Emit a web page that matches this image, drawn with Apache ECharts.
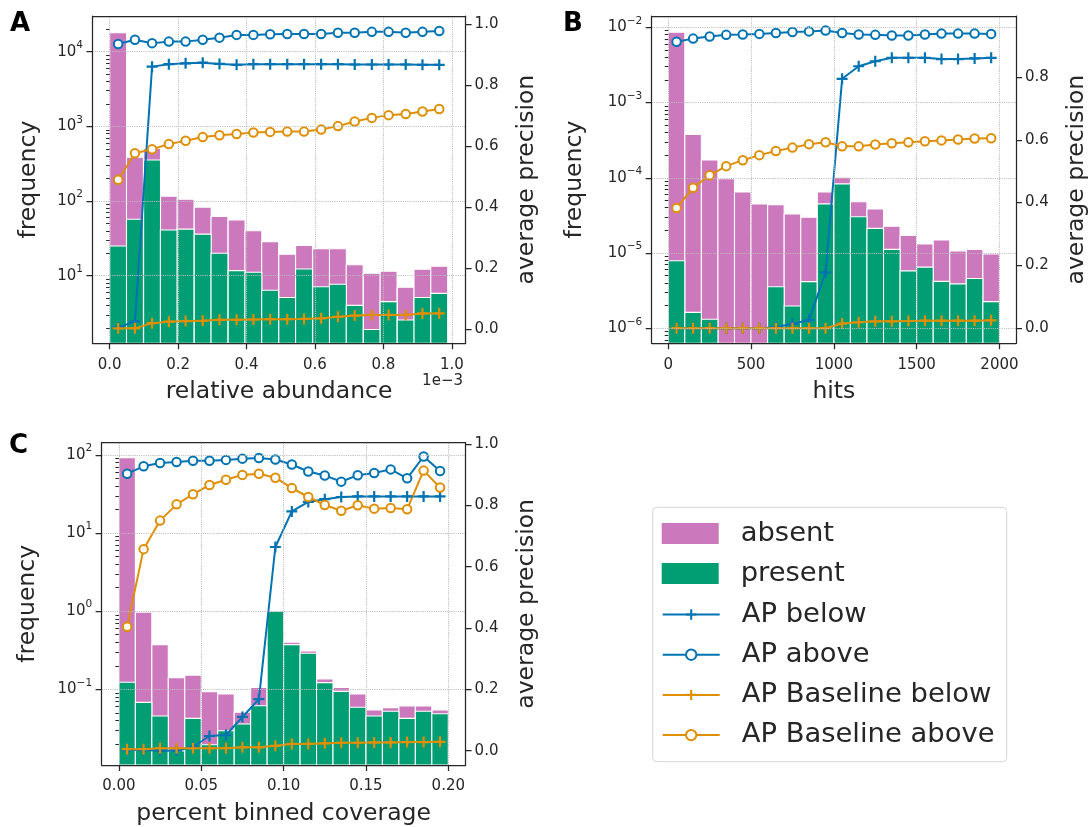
<!DOCTYPE html>
<html><head><meta charset="utf-8">
<script src="https://cdn.jsdelivr.net/npm/echarts@6/dist/echarts.min.js"></script>
<style>html,body{margin:0;padding:0;background:#fff}#c{width:1088px;height:827px}</style>
</head><body><div id="c"></div>
<script>
// ---------------- DATA ----------------
// Panel A: relative abundance (x in units of 1e-3)
const aBins = [0.025,0.074,0.124,0.173,0.222,0.272,0.321,0.371,0.420,0.469,0.519,0.568,0.618,0.667,0.716,0.766,0.815,0.865,0.914,0.963];
const aBinWidth = 0.0494;
const aAbsent  = [18000,385,508,116,106,83,62,56,40,28.6,19.4,25.5,23,23,14,10.8,11.5,7.0,12.2,13.4];
const aPresent = [25,57,355,41,42,36,20,11.7,11.1,6.4,5.1,12.3,7.1,7.7,4.0,1.9,4.5,2.55,5.1,5.8];
const aApBelow   = [0.005,0.025,0.860,0.868,0.871,0.873,0.869,0.866,0.868,0.868,0.868,0.868,0.868,0.868,0.867,0.867,0.867,0.867,0.866,0.866];
const aApAbove   = [0.934,0.948,0.937,0.942,0.942,0.948,0.955,0.964,0.964,0.966,0.967,0.967,0.967,0.971,0.971,0.974,0.974,0.971,0.974,0.977];
const aBaseBelow = [0.002,0.002,0.019,0.024,0.026,0.027,0.030,0.030,0.031,0.032,0.032,0.033,0.035,0.040,0.044,0.046,0.046,0.046,0.051,0.051];
const aBaseAbove = [0.489,0.576,0.589,0.606,0.617,0.629,0.635,0.639,0.644,0.646,0.647,0.647,0.654,0.665,0.680,0.692,0.701,0.705,0.713,0.721];
const aXTicks = [0.0,0.2,0.4,0.6,0.8,1.0];
const aLogTicks = [1e1,1e2,1e3,1e4];
const aApTicks = [0.0,0.2,0.4,0.6,0.8,1.0];

// Panel B: hits
const bBins = [50,150,250,350,450,550,650,750,850,950,1050,1150,1250,1350,1450,1550,1650,1750,1850,1950];
const bBinWidth = 100;
const bAbsent  = [8.6e-3,3.78e-4,1.73e-4,9.7e-5,6.5e-5,4.5e-5,4.4e-5,3.3e-5,3.0e-5,6.5e-5,1.02e-4,4.8e-5,3.85e-5,2.27e-5,1.72e-5,1.32e-5,1.49e-5,1.07e-5,1.12e-5,9.7e-6];
const bPresent = [7.9e-6,1.63e-6,1.32e-6,null,null,null,3.57e-6,1.98e-6,4.17e-6,4.5e-5,8.3e-5,3.04e-5,2.13e-5,1.12e-5,5.8e-6,6.5e-6,4.2e-6,3.9e-6,4.6e-6,2.26e-6];
const bApBelow   = [0,0,0,0,0,0,0.003,0.014,0.026,0.178,0.794,0.834,0.850,0.861,0.861,0.861,0.857,0.857,0.859,0.861];
const bApAbove   = [0.912,0.922,0.929,0.934,0.935,0.937,0.940,0.943,0.945,0.948,0.940,0.935,0.934,0.932,0.932,0.935,0.938,0.938,0.938,0.937];
const bBaseBelow = [0,0,0,0,0,0,0,0,0,0,0.015,0.019,0.022,0.022,0.023,0.024,0.024,0.024,0.024,0.025];
const bBaseAbove = [0.383,0.447,0.487,0.516,0.535,0.551,0.564,0.575,0.586,0.592,0.579,0.579,0.585,0.589,0.592,0.595,0.598,0.601,0.604,0.605];
const bXTicks = [0,500,1000,1500,2000];
const bLogTicks = [1e-6,1e-5,1e-4,1e-3,1e-2];
const bApTicks = [0.0,0.2,0.4,0.6,0.8];

// Panel C: percent binned coverage
const cBins = [0.005,0.015,0.025,0.035,0.045,0.055,0.065,0.075,0.085,0.095,0.105,0.115,0.125,0.135,0.145,0.155,0.165,0.175,0.185,0.195];
const cBinWidth = 0.01;
const cAbsent  = [92.4,0.968,0.373,0.141,0.152,0.093,0.087,0.051,0.106,0.9,0.40,0.309,0.1355,0.106,0.087,0.0543,0.0582,0.061,0.061,0.0543];
const cPresent = [0.123,0.068,0.0455,0.0162,0.0425,0.0195,0.0295,0.036,0.0616,1.0,0.373,0.289,0.1216,0.094,0.0589,0.0455,0.0523,0.0425,0.0523,0.0487];
const cApBelow   = [0.002,0.002,0.0,0.0,0.013,0.048,0.051,0.110,0.168,0.664,0.780,0.811,0.820,0.827,0.829,0.829,0.829,0.829,0.829,0.829];
const cApAbove   = [0.903,0.927,0.938,0.941,0.945,0.945,0.948,0.952,0.954,0.949,0.933,0.910,0.897,0.877,0.898,0.905,0.917,0.888,0.959,0.912];
const cBaseBelow = [0.005,0.005,0.008,0.008,0.008,0.008,0.008,0.011,0.011,0.016,0.022,0.022,0.024,0.026,0.026,0.027,0.027,0.028,0.028,0.029];
const cBaseAbove = [0.404,0.657,0.750,0.803,0.836,0.866,0.883,0.899,0.903,0.890,0.856,0.827,0.801,0.782,0.800,0.789,0.791,0.787,0.913,0.858];
const cXTicks = [0.00,0.05,0.10,0.15,0.20];
const cLogTicks = [1e-1,1e0,1e1,1e2];
const cApTicks = [0.0,0.2,0.4,0.6,0.8,1.0];

// ---------------- STYLE / LAYOUT ----------------
const FONT = 'DejaVu Sans';
const TXT = '#262626';
const BLUE = '#0173B2', ORANGE = '#DE8F05', GREEN = '#029E73', PINK = '#CC78BC';
const PLUS = 'path://M4,0H6V4H10V6H6V10H4V6H0V4H4Z';
const GRIDC = '#bdbdbd';

const panels = [
  {bins:aBins, w:aBinWidth, absent:aAbsent, present:aPresent, apB:aApBelow, apA:aApAbove, bsB:aBaseBelow, bsA:aBaseAbove,
   xt:aXTicks, lt:aLogTicks, rt:aApTicks, xfmt:v=>v.toFixed(1), xname:'relative abundance',
   grid:{left:92.5, top:16, width:373.1, height:327.3}, xr:[-0.05,1.04], yr:[1.244,30060], rr:[-0.047,1.026],
   lgap:52, rgap:49.6},
  {bins:bBins, w:bBinWidth, absent:bAbsent, present:bPresent, apB:bApBelow, apA:bApAbove, bsB:bBaseBelow, bsA:bBaseAbove,
   xt:bXTicks, lt:bLogTicks, rt:bApTicks, xfmt:v=>String(Math.round(v)), xname:'hits',
   grid:{left:651.7, top:16, width:364.3, height:327.3}, xr:[-100,2100], yr:[6.32e-7,0.01413], rr:[-0.048,0.994],
   lgap:65, rgap:48.7},
  {bins:cBins, w:cBinWidth, absent:cAbsent, present:cPresent, apB:cApBelow, apA:cApAbove, bsB:cBaseBelow, bsA:cBaseAbove,
   xt:cXTicks, lt:cLogTicks, rt:cApTicks, xfmt:v=>v.toFixed(2), xname:'percent binned coverage',
   grid:{left:101.6, top:442.7, width:364, height:322.3}, xr:[-0.0105,0.2105], yr:[0.01074,143.5], rr:[-0.0466,1.004],
   lgap:61.4, rgap:49.6}
];

function minorTicks(lo, hi){
  const out = [];
  for (let e = Math.floor(Math.log10(lo)) - 1; e <= Math.ceil(Math.log10(hi)); e++){
    for (let m = 2; m <= 9; m++){
      const v = m * Math.pow(10, e);
      if (v >= lo && v <= hi) out.push(v);
    }
  }
  return out;
}
function supLabel(v){
  const e = Math.round(Math.log10(v));
  return '{b|10}{s|' + (e < 0 ? '\u2212' + (-e) : e) + '}';
}
function barItem(width){
  return function(params, api){
    const x = api.value(0), y = api.value(1);
    if (y == null || isNaN(y) || y <= 0) return;
    const p1 = api.coord([x - width/2, y]);
    const p2 = api.coord([x + width/2, y]);
    const cs = params.coordSys;
    const bottom = cs.y + cs.height;
    return {type:'rect', shape:{x:p1[0], y:p1[1], width:p2[0]-p1[0], height:bottom-p1[1]},
            style:{fill:api.visual('color'), stroke:'#ffffff', lineWidth:1.1}};
  };
}
const pairs = (xs, ys) => xs.map((x,i)=>[x, ys[i]]).filter(d => d[1] != null);

const lineStyleAx = {color:TXT, width:1.25};
const labelBase = {color:TXT, fontFamily:FONT, fontSize:15};
const nameStyle = {color:TXT, fontFamily:FONT, fontSize:23.5};

const grids = [], xAxes = [], yAxes = [], series = [];
panels.forEach((p, k) => {
  grids.push(Object.assign({containLabel:false, outerBoundsMode:'none'}, p.grid));
  xAxes.push({gridIndex:k, type:'value', min:p.xr[0], max:p.xr[1], position:'bottom', z:10,
    axisLine:{show:true, onZero:false, lineStyle:lineStyleAx},
    axisTick:{show:true, length:6, lineStyle:lineStyleAx, customValues:p.xt},
    axisLabel:Object.assign({show:true, margin:14, customValues:p.xt, formatter:p.xfmt}, labelBase),
    splitLine:{show:true, lineStyle:{color:GRIDC, type:'dotted', width:1.1}},
    name:p.xname, nameLocation:'middle', nameGap:37, nameTextStyle:nameStyle});
  xAxes.push({gridIndex:k, type:'value', min:p.xr[0], max:p.xr[1], position:'top', z:10,
    axisLine:{show:true, onZero:false, lineStyle:lineStyleAx},
    axisTick:{show:false}, axisLabel:{show:false}, splitLine:{show:false}});
  yAxes.push({gridIndex:k, type:'log', logBase:10, min:p.yr[0], max:p.yr[1], position:'left', z:10,
    axisLine:{show:true, onZero:false, lineStyle:lineStyleAx},
    axisTick:{show:true, length:6, lineStyle:lineStyleAx, customValues:p.lt},
    axisLabel:{show:true, margin:9.5, customValues:p.lt, formatter:supLabel,
      rich:{b:{fontSize:15, fontFamily:FONT, color:TXT, lineHeight:24},
            s:{fontSize:10.5, fontFamily:FONT, color:TXT, lineHeight:6, verticalAlign:'top'}}},
    splitLine:{show:true, lineStyle:{color:GRIDC, type:'dotted', width:1.1}},
    name:'frequency', nameLocation:'middle', nameRotate:90, nameGap:p.lgap, nameTextStyle:nameStyle});
  yAxes.push({gridIndex:k, type:'log', logBase:10, min:p.yr[0], max:p.yr[1], position:'left', z:10,
    axisLine:{show:false},
    axisTick:{show:true, length:3.5, lineStyle:{color:TXT, width:1}, customValues:minorTicks(p.yr[0], p.yr[1])},
    axisLabel:{show:false}, splitLine:{show:false}});
  yAxes.push({gridIndex:k, type:'value', min:p.rr[0], max:p.rr[1], position:'right', z:10,
    axisLine:{show:true, onZero:false, lineStyle:lineStyleAx},
    axisTick:{show:true, length:6, lineStyle:lineStyleAx, customValues:p.rt},
    axisLabel:Object.assign({show:true, margin:9, customValues:p.rt, formatter:v=>v.toFixed(1)}, labelBase),
    splitLine:{show:false},
    name:'average precision', nameLocation:'middle', nameRotate:90, nameGap:p.rgap, nameTextStyle:nameStyle});

  const xi = 2*k, yl = 3*k, yr = 3*k + 2;
  series.push({type:'custom', name:'absent', coordinateSystem:'cartesian2d', xAxisIndex:xi, yAxisIndex:yl,
    renderItem:barItem(p.w), data:pairs(p.bins, p.absent), encode:{x:0, y:1},
    itemStyle:{color:PINK}, clip:true, silent:true, z:2});
  series.push({type:'custom', name:'present', coordinateSystem:'cartesian2d', xAxisIndex:xi, yAxisIndex:yl,
    renderItem:barItem(p.w), data:pairs(p.bins, p.present), encode:{x:0, y:1},
    itemStyle:{color:GREEN}, clip:true, silent:true, z:2});
  const mk = (name, ys, color, hollow) => ({
    type:'line', name:name, xAxisIndex:xi, yAxisIndex:yr, data:pairs(p.bins, ys), color:color,
    symbol: hollow ? 'circle' : PLUS, symbolSize: hollow ? 8.5 : 11, showSymbol:true, showAllSymbol:true,
    lineStyle:{color:color, width:2},
    itemStyle: hollow ? {color:'#ffffff', borderColor:color, borderWidth:2} : {color:color, borderWidth:0},
    silent:true, z:3});
  series.push(mk('AP below', p.apB, BLUE, false));
  series.push(mk('AP above', p.apA, BLUE, true));
  series.push(mk('AP Baseline below', p.bsB, ORANGE, false));
  series.push(mk('AP Baseline above', p.bsA, ORANGE, true));
});

const legendText = {fontSize:27.4, color:TXT, fontFamily:FONT, padding:[0,0,0,17]};
const option = {
  animation:false,
  backgroundColor:'#ffffff',
  textStyle:{fontFamily:FONT},
  grid:grids, xAxis:xAxes, yAxis:yAxes, series:series,
  legend:[
    {orient:'vertical', left:656.7, top:514.9, itemWidth:57, itemHeight:21, itemGap:13.2, selectedMode:false,
     textStyle:legendText,
     data:[{name:'absent', icon:'rect', itemStyle:{color:PINK, borderWidth:0}},
           {name:'present', icon:'rect', itemStyle:{color:GREEN, borderWidth:0}}]},
    {orient:'vertical', left:656.7, top:596, itemWidth:57, itemHeight:13, itemGap:13.2, selectedMode:false,
     textStyle:legendText,
     data:[{name:'AP below', itemStyle:{color:BLUE, borderWidth:0}, lineStyle:{color:BLUE, width:2}},
           {name:'AP above', itemStyle:{color:'#ffffff', borderColor:BLUE, borderWidth:2}, lineStyle:{color:BLUE, width:2}},
           {name:'AP Baseline below', itemStyle:{color:ORANGE, borderWidth:0}, lineStyle:{color:ORANGE, width:2}},
           {name:'AP Baseline above', itemStyle:{color:'#ffffff', borderColor:ORANGE, borderWidth:2}, lineStyle:{color:ORANGE, width:2}}]}
  ],
  graphic:[
    {type:'rect', shape:{x:652.7, y:507.3, width:354, height:254.4, r:4}, style:{fill:'#ffffff', stroke:'#d6d6d6', lineWidth:1}, z:0},
    {type:'text', style:{text:'A', x:10, y:24.5, verticalAlign:'middle', font:'bold 26px "DejaVu Sans"', fill:'#000'}},
    {type:'text', style:{text:'B', x:563, y:24.5, verticalAlign:'middle', font:'bold 26px "DejaVu Sans"', fill:'#000'}},
    {type:'text', style:{text:'C', x:9, y:446, verticalAlign:'middle', font:'bold 26px "DejaVu Sans"', fill:'#000'}},
    {type:'text', style:{text:'1e\u22123', x:463, y:381, align:'right', verticalAlign:'middle', font:'15px "DejaVu Sans"', fill:TXT}}
  ]
};
echarts.init(document.getElementById('c'), null, {renderer:'canvas'}).setOption(option);
</script></body></html>
